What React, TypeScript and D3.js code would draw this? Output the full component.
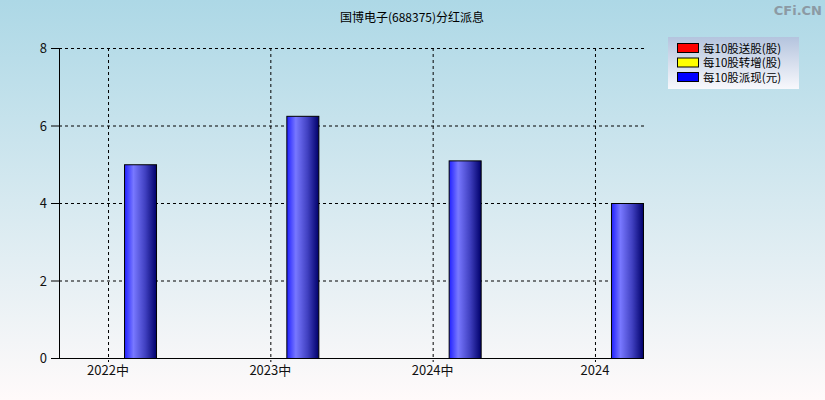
import React, { useEffect, useRef } from 'react';
import * as d3 from 'd3';

// chart data
const categories = ['2022中', '2023中', '2024中', '2024'];
const songGu = [0, 0, 0, 0];
const zhuanZeng = [0, 0, 0, 0];
const paiXian = [5.0, 6.25, 5.1, 4.0];
const yTicks = [0, 2, 4, 6, 8];
const legendLabels = ['每10股送股(股)', '每10股转增(股)', '每10股派现(元)'];
const legendColors = ['#ff0000', '#ffff00', '#0000ff'];

const W = 825;
const H = 400;
const FONT = '"Noto Sans CJK SC", "DejaVu Sans", sans-serif';

export default function App() {
  const svgRef = useRef<SVGSVGElement>(null);

  useEffect(() => {
    const svg = d3.select(svgRef.current);
    svg.selectAll('*').remove();

    const left = 59, right = 644, top = 48, bottom = 358;

    const defs = svg.append('defs');
    const bg = defs.append('linearGradient').attr('id', 'bg').attr('x1', 0).attr('y1', 0).attr('x2', 0).attr('y2', 1);
    bg.append('stop').attr('offset', '0%').attr('stop-color', '#add8e6');
    bg.append('stop').attr('offset', '100%').attr('stop-color', '#fffafa');

    const lg = defs.append('linearGradient').attr('id', 'lg').attr('x1', 0).attr('y1', 0).attr('x2', 0).attr('y2', 1);
    lg.append('stop').attr('offset', '0%').attr('stop-color', '#b4c4de');
    lg.append('stop').attr('offset', '100%').attr('stop-color', '#f8f8fc');

    const barG = defs.append('linearGradient').attr('id', 'bar').attr('x1', 0).attr('y1', 0).attr('x2', 1).attr('y2', 0);
    barG.append('stop').attr('offset', '0%').attr('stop-color', '#2020ff');
    barG.append('stop').attr('offset', '28%').attr('stop-color', '#7878ff');
    barG.append('stop').attr('offset', '65%').attr('stop-color', '#4040c0');
    barG.append('stop').attr('offset', '100%').attr('stop-color', '#00006a');

    svg.append('rect').attr('width', W).attr('height', H).attr('fill', 'url(#bg)');

    const x = d3.scalePoint<string>().domain(categories).range([left, right]).padding(0.302);
    const y = d3.scaleLinear().domain([0, 8]).range([bottom, top]);

    // grid
    svg.append('g').selectAll('line').data(yTicks.filter(t => t > 0)).enter().append('line')
      .attr('x1', left).attr('x2', right)
      .attr('y1', d => y(d) + 0.5).attr('y2', d => y(d) + 0.5)
      .attr('stroke', '#000').attr('stroke-dasharray', '3,3');
    svg.append('g').selectAll('line').data(categories).enter().append('line')
      .attr('x1', d => x(d)! + 0.5).attr('x2', d => x(d)! + 0.5)
      .attr('y1', top).attr('y2', bottom + 4)
      .attr('stroke', '#000').attr('stroke-dasharray', '3,3');

    // bars
    const bw = 32;
    svg.append('g').selectAll('rect').data(paiXian).enter().append('rect')
      .attr('x', (d, i) => x(categories[i])! + 16.5)
      .attr('y', d => y(d) + 0.5)
      .attr('width', bw)
      .attr('height', d => bottom - y(d))
      .attr('fill', 'url(#bar)')
      .attr('stroke', '#000').attr('stroke-width', 1);

    // axes
    svg.append('line').attr('x1', left + 0.5).attr('x2', left + 0.5).attr('y1', top).attr('y2', bottom)
      .attr('stroke', '#000');
    svg.append('line').attr('x1', left - 8).attr('x2', right).attr('y1', bottom + 0.5).attr('y2', bottom + 0.5)
      .attr('stroke', '#000');
    svg.append('g').selectAll('line').data(yTicks).enter().append('line')
      .attr('x1', left - 8).attr('x2', left)
      .attr('y1', d => y(d) + 0.5).attr('y2', d => y(d) + 0.5)
      .attr('stroke', '#000');
    svg.append('g').selectAll('text').data(yTicks).enter().append('text')
      .attr('x', left - 12).attr('y', d => y(d) + 5)
      .attr('text-anchor', 'end').attr('font-size', 13).attr('font-family', FONT)
      .attr('fill', '#111').text(d => d);
    svg.append('g').selectAll('text').data(categories).enter().append('text')
      .attr('x', d => x(d)!).attr('y', bottom + 17)
      .attr('text-anchor', 'middle').attr('font-size', 13).attr('font-family', FONT)
      .attr('fill', '#111').text(d => d);

    // title
    svg.append('text').attr('x', 412).attr('y', 22).attr('text-anchor', 'middle')
      .attr('font-size', 12).attr('font-family', FONT).attr('fill', '#000')
      .text('国博电子(688375)分红派息');

    // watermark
    svg.append('text').attr('x', 822).attr('y', 15).attr('text-anchor', 'end')
      .attr('font-size', 13).attr('font-weight', 'bold').attr('font-family', '"DejaVu Sans", sans-serif')
      .attr('fill', '#8c9aa4').text('CFi.CN');

    // legend
    const lgx = 668, lgy = 37;
    svg.append('rect').attr('x', lgx).attr('y', lgy).attr('width', 131).attr('height', 52).attr('fill', 'url(#lg)');
    legendLabels.forEach((lab, i) => {
      const ry = lgy + 6 + i * 14.5;
      svg.append('rect').attr('x', lgx + 9.5).attr('y', ry + 0.5).attr('width', 21).attr('height', 9)
        .attr('fill', legendColors[i]).attr('stroke', '#000');
      svg.append('text').attr('x', lgx + 35).attr('y', ry + 9.5)
        .attr('font-size', 11.5).attr('font-family', FONT).attr('fill', '#000').text(lab);
    });
    // series with no values in this chart
    void songGu; void zhuanZeng;
  }, []);

  return (
    <div>
      <svg ref={svgRef} width={W} height={H}
        style={{ display: 'block', position: 'fixed', left: 0, top: 0 }}></svg>
    </div>
  );
}
